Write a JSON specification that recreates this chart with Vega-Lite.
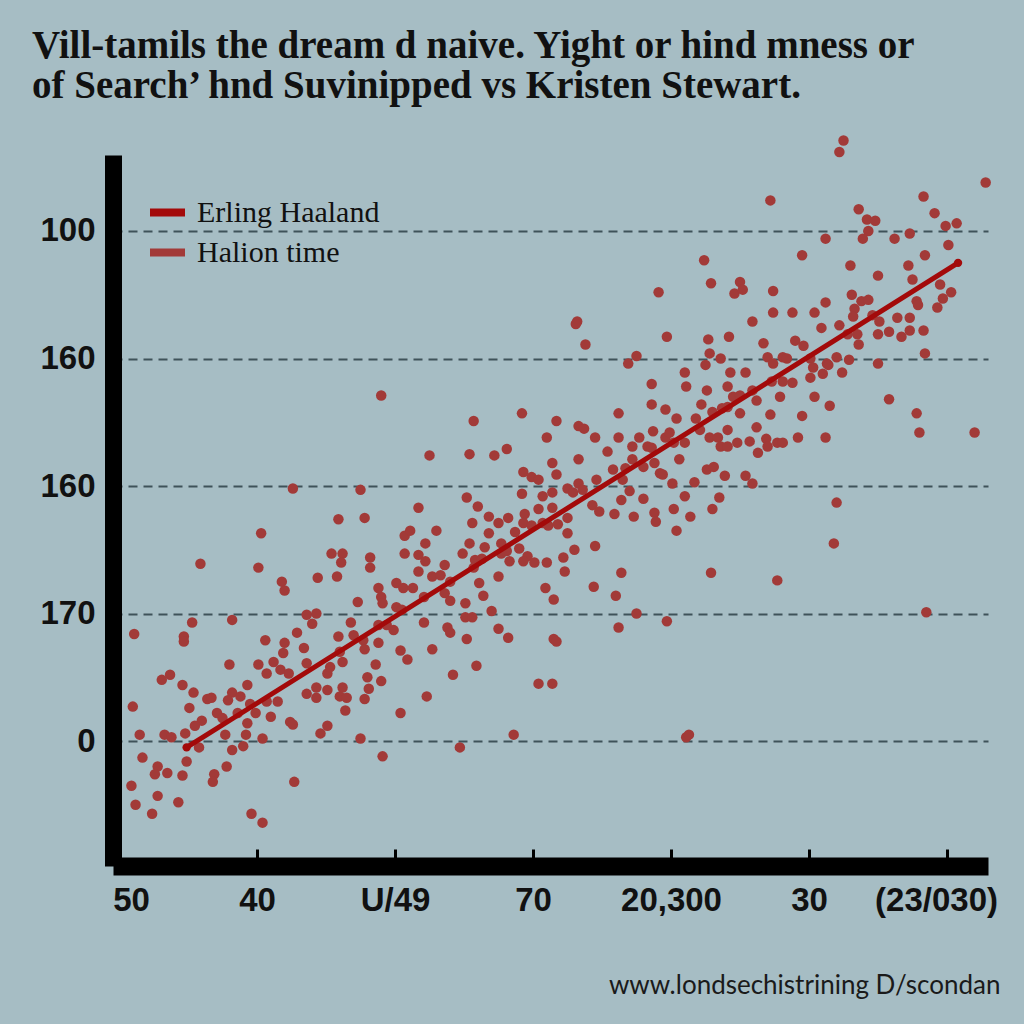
{"$schema":"https://vega.github.io/schema/vega-lite/v6.json","width":875,"height":711,"autosize":{"type":"none"},"padding":{"left":113,"top":155,"right":36,"bottom":158},"background":"#a6bdc4","title":{"text":["Vill-tamils the dream d naive. Yight or hind mness or","of Search\u2019 hnd Suvinipped vs Kristen Stewart."],"anchor":"start","frame":"group","font":"Liberation Serif","fontSize":39,"fontWeight":"bold","color":"#111111","lineHeight":40,"dx":-81,"offset":29},"config":{"view":{"stroke":null},"legend":{"orient":"none","legendX":33,"legendY":36,"title":null,"labelFont":"Liberation Serif","labelFontSize":30,"labelColor":"#111111","labelLimit":500,"symbolType":"stroke","symbolSize":1225,"symbolStrokeWidth":8,"rowPadding":2,"labelOffset":8}},"datasets":{"trend":[{"x":0.49,"y":-0.05,"s":"Erling Haaland"},{"x":6.08,"y":3.75,"s":"Erling Haaland"}],"pts":[{"x":1.26,"y":1.98},{"x":1.75,"y":1.97},{"x":1.59,"y":1.74},{"x":1.78,"y":1.75},{"x":1.03,"y":1.63},{"x":0.59,"y":1.39},{"x":1.01,"y":1.36},{"x":1.54,"y":1.47},{"x":1.62,"y":1.47},{"x":1.61,"y":1.40},{"x":1.82,"y":1.44},{"x":1.82,"y":1.36},{"x":1.44,"y":1.28},{"x":1.58,"y":1.29},{"x":1.18,"y":1.25},{"x":1.20,"y":1.18},{"x":1.73,"y":1.09},{"x":1.88,"y":1.20},{"x":1.90,"y":1.13},{"x":1.91,"y":1.08},{"x":2.01,"y":1.24},{"x":2.06,"y":1.20},{"x":2.07,"y":1.61},{"x":2.07,"y":1.47},{"x":2.01,"y":1.05},{"x":2.05,"y":1.03},{"x":0.53,"y":0.93},{"x":0.82,"y":0.95},{"x":0.11,"y":0.84},{"x":0.47,"y":0.82},{"x":0.47,"y":0.78},{"x":1.06,"y":0.79},{"x":1.29,"y":0.85},{"x":1.36,"y":0.99},{"x":1.43,"y":1.00},{"x":1.40,"y":0.92},{"x":1.68,"y":0.93},{"x":1.70,"y":0.83},{"x":1.59,"y":0.82},{"x":1.77,"y":0.79},{"x":1.78,"y":0.72},{"x":1.88,"y":0.91},{"x":1.94,"y":0.91},{"x":1.99,"y":0.87},{"x":1.88,"y":0.77},{"x":2.04,"y":0.71},{"x":2.09,"y":0.64},{"x":1.20,"y":0.77},{"x":1.19,"y":0.69},{"x":1.34,"y":0.73},{"x":1.36,"y":0.61},{"x":1.01,"y":0.60},{"x":0.80,"y":0.60},{"x":1.12,"y":0.62},{"x":1.07,"y":0.53},{"x":1.17,"y":0.56},{"x":1.23,"y":0.53},{"x":0.31,"y":0.48},{"x":0.37,"y":0.52},{"x":0.46,"y":0.44},{"x":0.54,"y":0.38},{"x":0.93,"y":0.44},{"x":0.82,"y":0.38},{"x":0.88,"y":0.35},{"x":0.79,"y":0.32},{"x":0.64,"y":0.33},{"x":0.67,"y":0.34},{"x":0.51,"y":0.26},{"x":0.10,"y":0.27},{"x":0.71,"y":0.22},{"x":0.75,"y":0.18},{"x":0.86,"y":0.22},{"x":0.95,"y":0.29},{"x":0.99,"y":0.22},{"x":1.07,"y":0.31},{"x":1.15,"y":0.31},{"x":1.10,"y":0.19},{"x":0.93,"y":0.14},{"x":1.24,"y":0.15},{"x":1.26,"y":0.13},{"x":1.43,"y":0.42},{"x":1.43,"y":0.34},{"x":1.36,"y":0.37},{"x":1.51,"y":0.40},{"x":1.62,"y":0.42},{"x":1.60,"y":0.35},{"x":1.65,"y":0.34},{"x":1.64,"y":0.24},{"x":1.51,"y":0.53},{"x":1.53,"y":0.58},{"x":1.60,"y":0.70},{"x":1.62,"y":0.62},{"x":1.86,"y":0.60},{"x":1.80,"y":0.50},{"x":1.90,"y":0.47},{"x":1.81,"y":0.41},{"x":1.78,"y":0.33},{"x":2.04,"y":0.22},{"x":1.51,"y":0.12},{"x":1.46,"y":0.06},{"x":1.75,"y":0.02},{"x":1.91,"y":-0.12},{"x":1.04,"y":0.02},{"x":0.92,"y":0.05},{"x":0.90,"y":-0.04},{"x":0.77,"y":0.05},{"x":0.82,"y":-0.07},{"x":0.78,"y":-0.20},{"x":0.69,"y":-0.26},{"x":0.68,"y":-0.32},{"x":0.58,"y":-0.05},{"x":0.60,"y":0.16},{"x":0.55,"y":0.12},{"x":0.48,"y":0.06},{"x":0.49,"y":-0.16},{"x":0.46,"y":-0.27},{"x":0.15,"y":0.05},{"x":0.33,"y":0.05},{"x":0.38,"y":0.03},{"x":0.17,"y":-0.13},{"x":0.28,"y":-0.20},{"x":0.26,"y":-0.26},{"x":0.35,"y":-0.25},{"x":0.09,"y":-0.35},{"x":0.28,"y":-0.43},{"x":0.12,"y":-0.50},{"x":0.24,"y":-0.57},{"x":0.43,"y":-0.48},{"x":1.27,"y":-0.32},{"x":0.96,"y":-0.57},{"x":1.04,"y":-0.64},{"x":1.90,"y":2.71},{"x":3.69,"y":2.96},{"x":4.10,"y":2.89},{"x":4.11,"y":2.78},{"x":3.86,"y":2.80},{"x":3.86,"y":2.64},{"x":3.96,"y":2.60},{"x":4.04,"y":2.53},{"x":4.18,"y":2.53},{"x":3.62,"y":2.57},{"x":2.92,"y":2.57},{"x":3.17,"y":2.51},{"x":2.57,"y":2.51},{"x":3.33,"y":2.47},{"x":3.37,"y":2.45},{"x":3.10,"y":2.38},{"x":3.45,"y":2.38},{"x":3.62,"y":2.38},{"x":3.77,"y":2.38},{"x":3.72,"y":2.31},{"x":3.83,"y":2.31},{"x":3.86,"y":2.30},{"x":3.87,"y":2.43},{"x":3.96,"y":2.38},{"x":3.99,"y":2.42},{"x":4.02,"y":2.34},{"x":4.10,"y":2.34},{"x":3.54,"y":2.27},{"x":3.33,"y":2.21},{"x":3.72,"y":2.21},{"x":3.88,"y":2.18},{"x":4.06,"y":2.21},{"x":2.25,"y":2.24},{"x":2.54,"y":2.25},{"x":2.72,"y":2.24},{"x":2.81,"y":2.29},{"x":3.14,"y":2.18},{"x":2.93,"y":2.11},{"x":2.99,"y":2.07},{"x":3.04,"y":2.05},{"x":3.17,"y":2.09},{"x":3.33,"y":2.02},{"x":3.46,"y":2.05},{"x":3.58,"y":2.13},{"x":3.67,"y":2.14},{"x":3.80,"y":2.15},{"x":3.65,"y":2.05},{"x":3.92,"y":2.10},{"x":3.94,"y":2.09},{"x":4.01,"y":2.02},{"x":4.17,"y":2.03},{"x":3.25,"y":1.98},{"x":3.29,"y":1.95},{"x":3.36,"y":1.97},{"x":3.70,"y":1.96},{"x":3.80,"y":1.90},{"x":3.64,"y":1.89},{"x":2.92,"y":1.94},{"x":3.07,"y":1.92},{"x":3.14,"y":1.95},{"x":2.52,"y":1.91},{"x":2.17,"y":1.83},{"x":2.60,"y":1.84},{"x":3.04,"y":1.82},{"x":3.14,"y":1.83},{"x":3.43,"y":1.85},{"x":3.48,"y":1.80},{"x":3.59,"y":1.78},{"x":3.73,"y":1.76},{"x":3.88,"y":1.79},{"x":3.89,"y":1.72},{"x":4.02,"y":1.82},{"x":4.10,"y":1.92},{"x":4.14,"y":1.76},{"x":4.04,"y":1.65},{"x":2.68,"y":1.76},{"x":2.75,"y":1.71},{"x":2.82,"y":1.75},{"x":2.94,"y":1.78},{"x":2.93,"y":1.71},{"x":2.99,"y":1.69},{"x":3.07,"y":1.71},{"x":3.11,"y":1.69},{"x":3.18,"y":1.70},{"x":3.25,"y":1.75},{"x":3.25,"y":1.63},{"x":2.56,"y":1.71},{"x":2.30,"y":1.65},{"x":2.11,"y":1.65},{"x":2.22,"y":1.55},{"x":2.54,"y":1.55},{"x":2.68,"y":1.63},{"x":2.87,"y":1.64},{"x":2.65,"y":1.52},{"x":2.77,"y":1.55},{"x":2.81,"y":1.49},{"x":2.90,"y":1.51},{"x":2.96,"y":1.45},{"x":2.49,"y":1.47},{"x":2.17,"y":1.46},{"x":2.22,"y":1.41},{"x":2.36,"y":1.38},{"x":2.58,"y":1.42},{"x":2.63,"y":1.43},{"x":2.57,"y":1.36},{"x":2.77,"y":1.47},{"x":2.83,"y":1.41},{"x":2.93,"y":1.41},{"x":3.01,"y":1.40},{"x":3.10,"y":1.40},{"x":3.22,"y":1.44},{"x":3.30,"y":1.50},{"x":3.45,"y":1.53},{"x":2.17,"y":1.33},{"x":2.27,"y":1.29},{"x":2.33,"y":1.30},{"x":2.40,"y":1.25},{"x":2.13,"y":1.20},{"x":2.21,"y":1.13},{"x":2.36,"y":1.16},{"x":2.51,"y":1.08},{"x":2.40,"y":1.10},{"x":2.61,"y":1.24},{"x":2.64,"y":1.14},{"x":2.75,"y":1.29},{"x":3.23,"y":1.33},{"x":3.09,"y":1.20},{"x":3.15,"y":1.11},{"x":3.44,"y":1.21},{"x":3.64,"y":1.32},{"x":3.60,"y":1.14},{"x":2.21,"y":0.93},{"x":2.38,"y":0.89},{"x":2.40,"y":0.85},{"x":2.51,"y":0.97},{"x":2.56,"y":0.97},{"x":2.70,"y":1.02},{"x":2.52,"y":0.80},{"x":2.75,"y":0.88},{"x":2.82,"y":0.81},{"x":3.15,"y":0.80},{"x":3.17,"y":0.78},{"x":3.62,"y":0.89},{"x":3.75,"y":1.00},{"x":3.97,"y":0.94},{"x":2.27,"y":0.72},{"x":2.59,"y":0.59},{"x":2.42,"y":0.52},{"x":3.04,"y":0.45},{"x":3.14,"y":0.45},{"x":2.23,"y":0.35},{"x":2.86,"y":0.05},{"x":2.47,"y":-0.05},{"x":4.11,"y":0.03},{"x":4.13,"y":0.05},{"x":3.91,"y":3.52},{"x":3.32,"y":3.29},{"x":3.31,"y":3.27},{"x":3.38,"y":3.11},{"x":3.75,"y":3.02},{"x":3.97,"y":3.17},{"x":5.25,"y":4.71},{"x":5.22,"y":4.62},{"x":4.72,"y":4.24},{"x":6.28,"y":4.38},{"x":5.83,"y":4.27},{"x":5.91,"y":4.14},{"x":5.36,"y":4.17},{"x":5.42,"y":4.09},{"x":5.48,"y":4.08},{"x":5.43,"y":4.00},{"x":5.39,"y":3.94},{"x":5.12,"y":3.94},{"x":5.62,"y":3.94},{"x":5.73,"y":3.98},{"x":5.99,"y":4.04},{"x":6.07,"y":4.06},{"x":6.01,"y":3.89},{"x":5.84,"y":3.81},{"x":4.24,"y":3.77},{"x":4.95,"y":3.81},{"x":5.30,"y":3.73},{"x":5.50,"y":3.65},{"x":5.72,"y":3.73},{"x":5.75,"y":3.62},{"x":5.95,"y":3.58},{"x":6.03,"y":3.52},{"x":5.97,"y":3.47},{"x":5.93,"y":3.40},{"x":4.29,"y":3.59},{"x":4.50,"y":3.60},{"x":4.46,"y":3.51},{"x":4.52,"y":3.54},{"x":4.74,"y":3.53},{"x":5.31,"y":3.50},{"x":5.12,"y":3.44},{"x":5.38,"y":3.45},{"x":5.43,"y":3.46},{"x":5.33,"y":3.39},{"x":5.32,"y":3.33},{"x":4.74,"y":3.36},{"x":4.88,"y":3.36},{"x":5.04,"y":3.36},{"x":4.59,"y":3.29},{"x":5.09,"y":3.24},{"x":5.22,"y":3.26},{"x":5.28,"y":3.19},{"x":5.35,"y":3.19},{"x":5.36,"y":3.11},{"x":5.46,"y":3.34},{"x":5.51,"y":3.29},{"x":5.50,"y":3.19},{"x":5.58,"y":3.21},{"x":5.64,"y":3.32},{"x":5.73,"y":3.32},{"x":5.67,"y":3.17},{"x":5.73,"y":3.22},{"x":5.83,"y":3.22},{"x":5.78,"y":3.45},{"x":5.79,"y":3.42},{"x":5.84,"y":3.04},{"x":4.27,"y":3.15},{"x":4.42,"y":3.17},{"x":4.67,"y":3.12},{"x":4.90,"y":3.14},{"x":4.96,"y":3.10},{"x":4.28,"y":3.04},{"x":4.36,"y":3.00},{"x":4.25,"y":2.95},{"x":4.70,"y":3.01},{"x":4.81,"y":3.01},{"x":4.84,"y":3.00},{"x":4.74,"y":2.96},{"x":5.01,"y":3.00},{"x":5.03,"y":2.93},{"x":5.13,"y":2.96},{"x":5.20,"y":3.01},{"x":5.29,"y":2.99},{"x":5.14,"y":2.95},{"x":5.24,"y":2.89},{"x":5.50,"y":2.96},{"x":4.43,"y":2.89},{"x":4.54,"y":2.89},{"x":5.01,"y":2.85},{"x":5.10,"y":2.88},{"x":4.26,"y":2.75},{"x":4.41,"y":2.78},{"x":4.73,"y":2.82},{"x":4.81,"y":2.82},{"x":4.88,"y":2.81},{"x":4.59,"y":2.75},{"x":4.45,"y":2.70},{"x":4.50,"y":2.71},{"x":4.62,"y":2.67},{"x":4.79,"y":2.70},{"x":5.04,"y":2.70},{"x":5.15,"y":2.63},{"x":4.22,"y":2.64},{"x":4.30,"y":2.58},{"x":4.37,"y":2.61},{"x":4.41,"y":2.62},{"x":4.50,"y":2.57},{"x":4.72,"y":2.56},{"x":4.95,"y":2.55},{"x":4.21,"y":2.44},{"x":4.28,"y":2.38},{"x":4.34,"y":2.38},{"x":4.41,"y":2.44},{"x":4.36,"y":2.31},{"x":4.41,"y":2.31},{"x":4.48,"y":2.34},{"x":4.57,"y":2.35},{"x":4.69,"y":2.37},{"x":4.70,"y":2.31},{"x":4.77,"y":2.34},{"x":4.81,"y":2.34},{"x":4.92,"y":2.38},{"x":5.12,"y":2.38},{"x":4.62,"y":2.46},{"x":4.63,"y":2.26},{"x":5.58,"y":2.68},{"x":5.78,"y":2.57},{"x":5.80,"y":2.42},{"x":6.20,"y":2.42},{"x":4.26,"y":2.13},{"x":4.31,"y":2.15},{"x":4.39,"y":2.08},{"x":4.54,"y":2.08},{"x":4.59,"y":2.02},{"x":4.35,"y":1.91},{"x":4.30,"y":1.82},{"x":5.20,"y":1.87},{"x":5.18,"y":1.55},{"x":4.29,"y":1.32},{"x":4.77,"y":1.26},{"x":5.85,"y":1.01}]},"encoding":{"x":{"field":"x","type":"quantitative","scale":{"domain":[-0.0435,6.297],"nice":false,"zero":false},"axis":{"values":[0,1,2,3,4,5,6],"labelExpr":"['50','40','U/49','70','20,300','30','(23/030)'][datum.value]","grid":false,"domainColor":"#000000","domainWidth":18,"tickColor":"#000000","tickWidth":3,"tickSize":-17,"labelPadding":35,"labelFlush":false,"labelOverlap":false,"labelBound":false,"labelFont":"Liberation Sans","labelFontWeight":"bold","labelFontSize":33,"labelColor":"#111111","labelOffset":{"expr":"datum.value == 0 ? 12 : datum.value == 6 ? -11 : 0"},"title":"www.londsechistrining D/scondan","titleFont":"Lato","titleFontSize":26,"titleFontWeight":"normal","titleColor":"#1a1a1a","titleX":887,"titleY":119,"titleAlign":"right","titleBaseline":"middle","titleAnchor":null}},"y":{"field":"y","type":"quantitative","scale":{"domain":[-0.98,4.596],"nice":false,"zero":false},"axis":{"values":[0,1,2,3,4],"labelExpr":"datum.value == 4 ? '100' : datum.value == 3 ? '160' : datum.value == 2 ? '160' : datum.value == 1 ? '170' : '0'","grid":true,"gridDash":[9,6],"gridColor":"#3e5259","gridWidth":2,"ticks":false,"domainColor":"#000000","domainWidth":17,"labelPadding":18,"labelFont":"Liberation Sans","labelFontWeight":"bold","labelFontSize":33,"labelColor":"#111111","labelBaseline":"middle","title":null}}},"layer":[{"data":{"name":"pts"},"mark":{"type":"point","filled":true,"size":110,"opacity":1,"clip":false},"encoding":{"color":{"datum":"Halion time","scale":{"domain":["Erling Haaland","Halion time"],"range":["#a30a0a","#a23a38"]}}}},{"data":{"name":"trend"},"mark":{"type":"line","strokeWidth":5,"strokeCap":"round","point":{"filled":true,"size":70}},"encoding":{"color":{"field":"s","type":"nominal"}}}]}
